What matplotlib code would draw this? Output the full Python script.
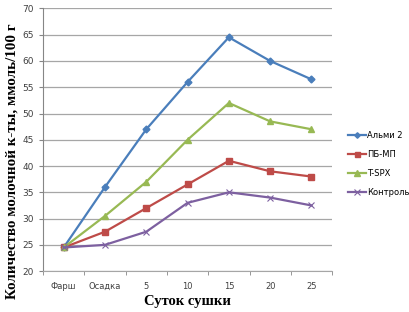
import numpy as np
from matplotlib import pyplot as plt

categories = ["Фарш", "Осадка", "5", "10", "15", "20", "25"]
almi2 = [24.5, 36, 47, 56, 64.5, 60, 56.5]
pb_mp = [24.5, 27.5, 32, 36.5, 41, 39, 38]
t_spx = [24.5, 30.5, 37, 45, 52, 48.5, 47]
control = [24.5, 25, 27.5, 33, 35, 34, 32.5]
series_names = ["Альми 2", "ПБ-МП", "T-SPX", "Контроль"]

styles = [
    dict(color="#4A7EBB", marker="D", ms=3.5, mfc="#4A7EBB", mec="#4A7EBB"),
    dict(color="#BE4B48", marker="s", ms=4.5, mfc="#BE4B48", mec="#BE4B48"),
    dict(color="#98B954", marker="^", ms=5, mfc="#98B954", mec="#98B954"),
    dict(color="#7D60A0", marker="x", ms=5, mfc="#7D60A0", mec="#7D60A0", mew=0.8),
]

fig = plt.figure(figsize=(4.1, 3.12), dpi=100)
ax = fig.add_axes([0.105, 0.131, 0.705, 0.842])

x = np.arange(len(categories))
handles = []
for vals, name, st in zip([almi2, pb_mp, t_spx, control], series_names, styles):
    ln, = ax.plot(x, vals, lw=1.6, label=name, zorder=3, **st)
    handles.append(ln)

ax.set_xlim(-0.5, len(categories) - 0.5)
ax.set_ylim(20, 70)
ax.set_yticks(np.arange(20, 71, 5))
ax.set_xticks(x)
ax.set_xticklabels(categories)
ax.set_xticks(np.arange(-0.5, len(categories), 1), minor=True)

ax.yaxis.grid(True, color="#A6A6A6", lw=0.9)
ax.set_axisbelow(True)
for s in ["top", "right"]:
    ax.spines[s].set_visible(False)
ax.spines["left"].set_color("#868686")
ax.spines["bottom"].set_color("#A6A6A6")
ax.tick_params(axis="x", which="major", length=0, labelsize=6, colors="#404040", pad=8)
ax.tick_params(axis="x", which="minor", length=3, color="#868686")
ax.tick_params(axis="y", length=3, color="#868686", labelsize=6.5, labelcolor="#404040")

ax.set_ylabel("Количество молочной к-ты, ммоль/100 г", family="Liberation Serif",
              fontweight="bold", fontsize=10.8)
ax.yaxis.set_label_coords(-0.085, 0.42)
ax.set_xlabel("Суток сушки", family="Liberation Serif", fontweight="bold",
              fontsize=10.5, labelpad=3)

fig.legend(handles=handles, loc="upper left", bbox_to_anchor=(0.83, 0.605),
           frameon=False, fontsize=6, handlelength=2.2, handletextpad=0.1,
           labelspacing=1.2, markerscale=0.8)

fig.savefig("out.png", dpi=100)
